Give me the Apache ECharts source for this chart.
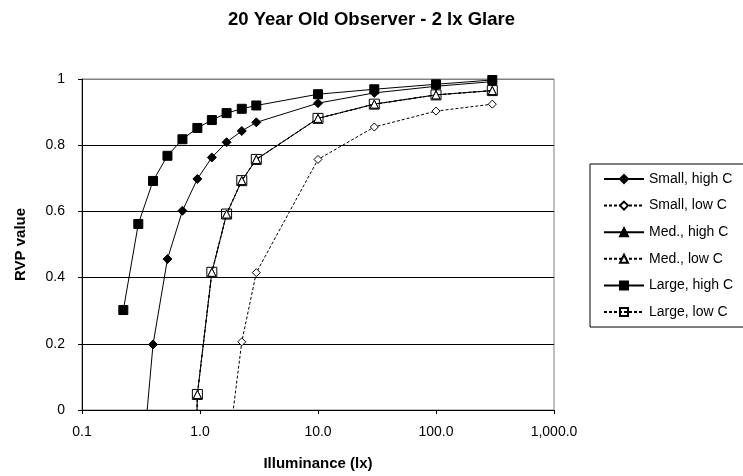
<!DOCTYPE html>
<html>
<head>
<meta charset="utf-8">
<script src="https://cdn.jsdelivr.net/npm/echarts@6/dist/echarts.min.js"></script>
<style>
  html, body { margin: 0; padding: 0; background: #fff; }
  #chart { width: 743px; height: 476px; }
</style>
</head>
<body>
<div id="chart"></div>
<script>
'use strict';

// illuminance (lx) and RVP values
var lxSmallHigh = [0.30, 0.40, 0.53, 0.71, 0.95, 1.26, 1.68, 2.26, 3.0, 10, 30, 100, 300];
var rvpSmallHigh = [-0.30, 0.198, 0.456, 0.602, 0.698, 0.763, 0.809, 0.843, 0.869, 0.927, 0.958, 0.978, 0.992];

var lxSmallLow = [1.68, 2.26, 3.0, 10, 30, 100, 300];
var rvpSmallLow = [-0.16, 0.206, 0.415, 0.757, 0.855, 0.903, 0.924];

var lxMedHigh = [0.71, 0.95, 1.26, 1.68, 2.26, 3.0, 10, 30, 100, 300];
var rvpMedHigh = [-2.0, 0.047, 0.416, 0.592, 0.693, 0.757, 0.881, 0.924, 0.952, 0.965];

var lxMedLow = [0.71, 0.95, 1.26, 1.68, 2.26, 3.0, 10, 30, 100, 300];
var rvpMedLow = [-2.0, 0.047, 0.416, 0.592, 0.693, 0.757, 0.881, 0.924, 0.952, 0.965];

var lxLargeHigh = [0.224, 0.30, 0.40, 0.53, 0.71, 0.95, 1.26, 1.68, 2.26, 3.0, 10, 30, 100, 300];
var rvpLargeHigh = [0.302, 0.562, 0.692, 0.768, 0.818, 0.852, 0.876, 0.897, 0.910, 0.920, 0.954, 0.969, 0.984, 0.997];

var lxLargeLow = [0.71, 0.95, 1.26, 1.68, 2.26, 3.0, 10, 30, 100, 300];
var rvpLargeLow = [-2.0, 0.047, 0.416, 0.592, 0.693, 0.757, 0.881, 0.924, 0.952, 0.965];

var seriesNames = ['Small, high C', 'Small, low C', 'Med., high C', 'Med., low C', 'Large, high C', 'Large, low C'];

var xTickValues = [0.1, 1, 10, 100, 1000];
var xTickLabels = ['0.1', '1.0', '10.0', '100.0', '1,000.0'];
var yTickLabels = ['0', '0.2', '0.4', '0.6', '0.8', '1'];

var FONT = 'Arial, "Liberation Sans", sans-serif';

function pairs(xs, ys) {
  return xs.map(function (x, i) { return [x, ys[i]]; });
}

function makeSeries(name, xs, ys, symbol, size, filled, dashed, fill) {
  return {
    name: name,
    type: 'line',
    data: pairs(xs, ys),
    symbol: symbol,
    symbolSize: size,
    showAllSymbol: true,
    clip: true,
    lineStyle: { color: '#000', width: 1, type: dashed ? [3, 2] : 'solid' },
    itemStyle: {
      color: filled ? '#000' : (fill || '#fff'),
      borderColor: '#000',
      borderWidth: 1
    },
    emphasis: { disabled: true }
  };
}

var myChart = echarts.init(document.getElementById('chart'), null, { renderer: 'canvas' });

var option = {
  animation: false,
  backgroundColor: '#fff',
  textStyle: { fontFamily: FONT, color: '#000' },
  title: {
    text: '20 Year Old Observer - 2 lx Glare',
    left: 'center',
    top: 5,
    textStyle: { fontFamily: FONT, fontSize: 18.5, fontWeight: 'bold', color: '#000' }
  },
  grid: {
    left: 82, right: 189, top: 79, bottom: 66,
    show: true, borderColor: '#808080', borderWidth: 1, backgroundColor: '#fff'
  },
  legend: {
    orient: 'vertical',
    left: 590,
    top: 164,
    itemWidth: 40,
    itemHeight: 10,
    itemGap: 12.6,
    padding: [8, 30, 8, 13],
    borderColor: '#000',
    borderWidth: 1,
    backgroundColor: '#fff',
    textStyle: { fontFamily: FONT, fontSize: 14, lineHeight: 14, color: '#000' },
    data: seriesNames
  },
  xAxis: {
    type: 'log',
    logBase: 10,
    min: 0.1,
    max: 1000,
    name: 'Illuminance (lx)',
    nameLocation: 'middle',
    nameGap: 46,
    nameTextStyle: { fontFamily: FONT, fontSize: 15, fontWeight: 'bold', color: '#000' },
    axisLine: { lineStyle: { color: '#000', width: 1 } },
    axisTick: { length: 4, lineStyle: { color: '#000' } },
    splitLine: { show: false },
    minorTick: { show: false },
    axisLabel: {
      fontFamily: FONT, fontSize: 14, color: '#000', margin: 15,
      formatter: function (v) {
        var k = Math.round(Math.log10(v));
        var idx = xTickValues.findIndex(function (t) { return Math.round(Math.log10(t)) === k; });
        return idx >= 0 ? xTickLabels[idx] : '';
      }
    }
  },
  yAxis: {
    type: 'value',
    min: 0,
    max: 1,
    interval: 0.2,
    name: 'RVP value',
    nameLocation: 'middle',
    nameGap: 54,
    nameTextStyle: { fontFamily: FONT, fontSize: 15, fontWeight: 'bold', color: '#000' },
    axisLine: { show: true, lineStyle: { color: '#000', width: 1 } },
    axisTick: { show: true, length: 4, lineStyle: { color: '#000' } },
    splitLine: {
      show: true,
      lineStyle: { color: ['#000', '#000', '#000', '#000', '#000', '#808080'], width: 1 }
    },
    axisLabel: {
      fontFamily: FONT, fontSize: 14, color: '#000', margin: 17,
      formatter: function (v) {
        return yTickLabels[Math.round(v / 0.2)];
      }
    }
  },
  series: [
    makeSeries(seriesNames[0], lxSmallHigh, rvpSmallHigh, 'diamond', 9, true, false),
    makeSeries(seriesNames[1], lxSmallLow, rvpSmallLow, 'diamond', 8, false, true),
    makeSeries(seriesNames[2], lxMedHigh, rvpMedHigh, 'triangle', 8, true, false),
    makeSeries(seriesNames[3], lxMedLow, rvpMedLow, 'triangle', 8, false, true),
    makeSeries(seriesNames[4], lxLargeHigh, rvpLargeHigh, 'rect', 9, true, false),
    makeSeries(seriesNames[5], lxLargeLow, rvpLargeLow, 'rect', 10, false, true, 'rgba(255,255,255,0)')
  ]
};

myChart.setOption(option);
</script>
</body>
</html>
